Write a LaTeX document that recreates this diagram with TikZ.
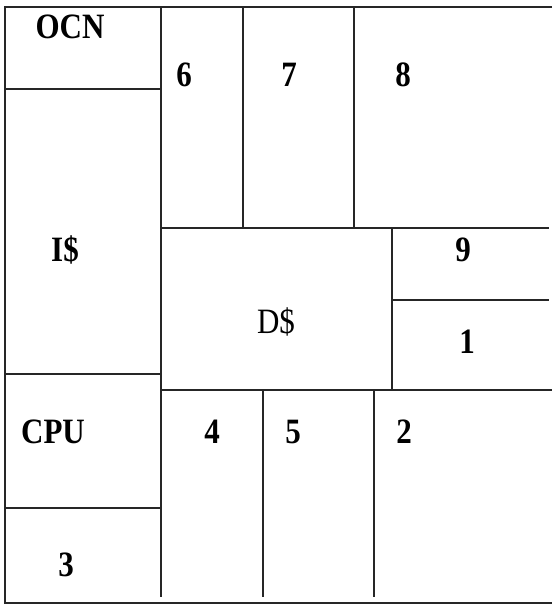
\documentclass[tikz,border=0pt]{standalone}
\usepackage{fontspec}
\setmainfont{Liberation Serif}
\begin{document}
\begin{tikzpicture}[x=1pt,y=-1pt,
  part/.style={line width=1.5pt,draw=black!85},
  lbl/.style={font=\fontsize{31}{31}\selectfont\bfseries,inner sep=0pt},
  lblreg/.style={font=\fontsize{31}{31}\selectfont,inner sep=0pt}]
\useasboundingbox (0,0) rectangle (552,605);
% outer frame (no right border)
\draw[part] (552,7) -- (5,7) -- (5,603) -- (552,603);
% left column
\draw[part] (5,89) -- (161,89);
\draw[part] (5,374) -- (161,374);
\draw[part] (5,508) -- (161,508);
\draw[part] (161,7) -- (161,597);
% top blocks
\draw[part] (243,7) -- (243,228);
\draw[part] (354,7) -- (354,228);
\draw[part] (161,228) -- (549,228);
% D$ and 9/1
\draw[part] (392,228) -- (392,390);
\draw[part] (392,300) -- (549,300);
\draw[part] (161,390) -- (552,390);
% bottom blocks
\draw[part] (263,390) -- (263,597);
\draw[part] (374,390) -- (374,597);
% labels
\node[lbl] (ocn) at (70,27) {\scalebox{1}[1.15]{OCN}};
\node[lbl] (b6) at (184,75) {\scalebox{1}[1.15]{6}};
\node[lbl] (b7) at (289,75) {\scalebox{1}[1.15]{7}};
\node[lbl] (b8) at (403,75) {\scalebox{1}[1.15]{8}};
\node[lbl] (icache) at (65,250) {\scalebox{1}[1.15]{I\$}};
\node[lbl] (b9) at (463,250) {\scalebox{1}[1.15]{9}};
\node[lblreg] (dcache) at (276,322) {\scalebox{1}[1.15]{D\$}};
\node[lbl] (b1) at (467,342) {\scalebox{1}[1.15]{1}};
\node[lbl] (cpu) at (53,432) {\scalebox{1}[1.15]{CPU}};
\node[lbl] (b4) at (212,432) {\scalebox{1}[1.15]{4}};
\node[lbl] (b5) at (293,432) {\scalebox{1}[1.15]{5}};
\node[lbl] (b2) at (404,432) {\scalebox{1}[1.15]{2}};
\node[lbl] (b3) at (66,565) {\scalebox{1}[1.15]{3}};
\end{tikzpicture}
\end{document}
